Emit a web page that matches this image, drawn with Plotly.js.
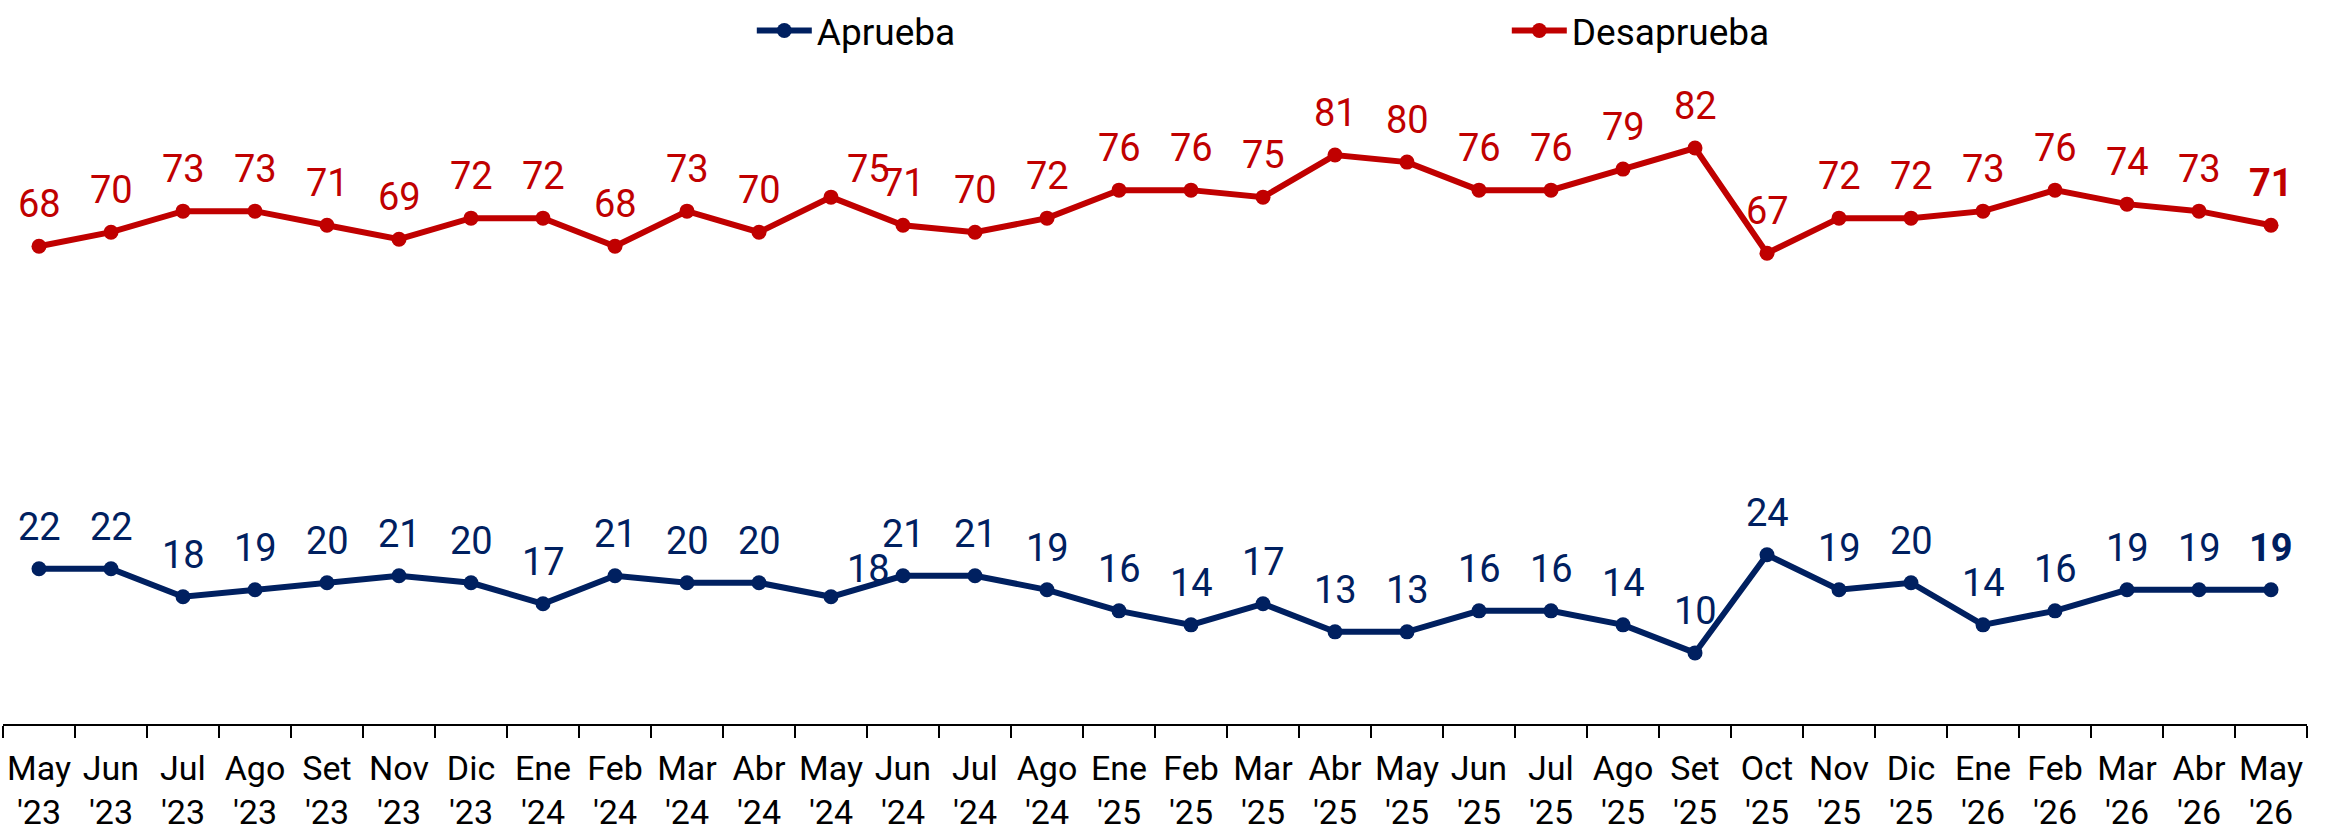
<!DOCTYPE html>
<html>
<head>
<meta charset="utf-8">
<script src="https://cdn.plot.ly/plotly-3.0.1.min.js"></script>
<style>html,body{margin:0;padding:0;background:#fff;}#chart{width:2330px;height:836px;}</style>
</head>
<body>
<div id="chart"></div>
<script>
const categories = ["May '23","Jun '23","Jul '23","Ago '23","Set '23","Nov '23","Dic '23","Ene '24","Feb '24","Mar '24","Abr '24","May '24","Jun '24","Jul '24","Ago '24","Ene '25","Feb '25","Mar '25","Abr '25","May '25","Jun '25","Jul '25","Ago '25","Set '25","Oct '25","Nov '25","Dic '25","Ene '26","Feb '26","Mar '26","Abr '26","May '26"];
const aprueba = [22,22,18,19,20,21,20,17,21,20,20,18,21,21,19,16,14,17,13,13,16,16,14,10,24,19,20,14,16,19,19,19];
const desaprueba = [68,70,73,73,71,69,72,72,68,73,70,75,71,70,72,76,76,75,81,80,76,76,79,82,67,72,72,73,76,74,73,71];
const tickText = categories.map(c => c.replace(' ', '<br>'));

const BLUE = '#002060';
const RED = '#C00000';
const FONT = 'Roboto, "Noto Sans", sans-serif';

const traces = [
  {name: 'Aprueba', x: categories, y: aprueba, type: 'scatter', mode: 'lines+markers',
   line: {color: BLUE, width: 6}, marker: {color: BLUE, size: 15}, hoverinfo: 'skip'},
  {name: 'Desaprueba', x: categories, y: desaprueba, type: 'scatter', mode: 'lines+markers',
   line: {color: RED, width: 6}, marker: {color: RED, size: 15}, hoverinfo: 'skip'}
];

// label placement: one point (May '24) has its labels nudged right
const nudged = {"May '24": true};
const annotations = [];
function addLabels(vals, color) {
  vals.forEach((v, i) => {
    const last = i === vals.length - 1;
    const n = nudged[categories[i]];
    annotations.push({
      x: categories[i], y: v, xref: 'x', yref: 'y', showarrow: false,
      text: last ? '<b>' + v + '</b>' : String(v),
      font: {family: FONT, size: 38, color: color},
      yanchor: 'bottom', xanchor: 'center',
      yshift: n ? 4 : 18, xshift: n ? 37 : 0
    });
  });
}
addLabels(aprueba, BLUE);
addLabels(desaprueba, RED);

const layout = {
  width: 2330, height: 836,
  margin: {l: 3, r: 23, t: 0, b: 112},
  paper_bgcolor: '#fff', plot_bgcolor: '#fff',
  font: {family: FONT, color: '#000'},
  showlegend: true,
  legend: {orientation: 'h', x: 0.325, xanchor: 'left', y: 0.9655, yanchor: 'middle',
           font: {family: FONT, size: 37, color: '#000'}, entrywidth: 685, entrywidthmode: 'pixels',
           itemwidth: 55, bgcolor: 'rgba(0,0,0,0)', tracegroupgap: 0},
  xaxis: {type: 'category', range: [-0.5, 31.5], tickvals: categories, ticktext: tickText,
          tickson: 'boundaries', ticks: 'outside', ticklen: 12, tickwidth: 2, tickcolor: '#000',
          ticklabelstandoff: 13,
          showline: true, linecolor: '#000', linewidth: 2, showgrid: false, zeroline: false,
          tickfont: {family: FONT, size: 34, color: '#000'}, tickangle: 0, fixedrange: true},
  yaxis: {range: [-0.14, 102.26], visible: false, showgrid: false, zeroline: false, fixedrange: true},
  annotations: annotations
};

Plotly.newPlot('chart', traces, layout, {displayModeBar: false, staticPlot: true});
</script>
</body>
</html>
